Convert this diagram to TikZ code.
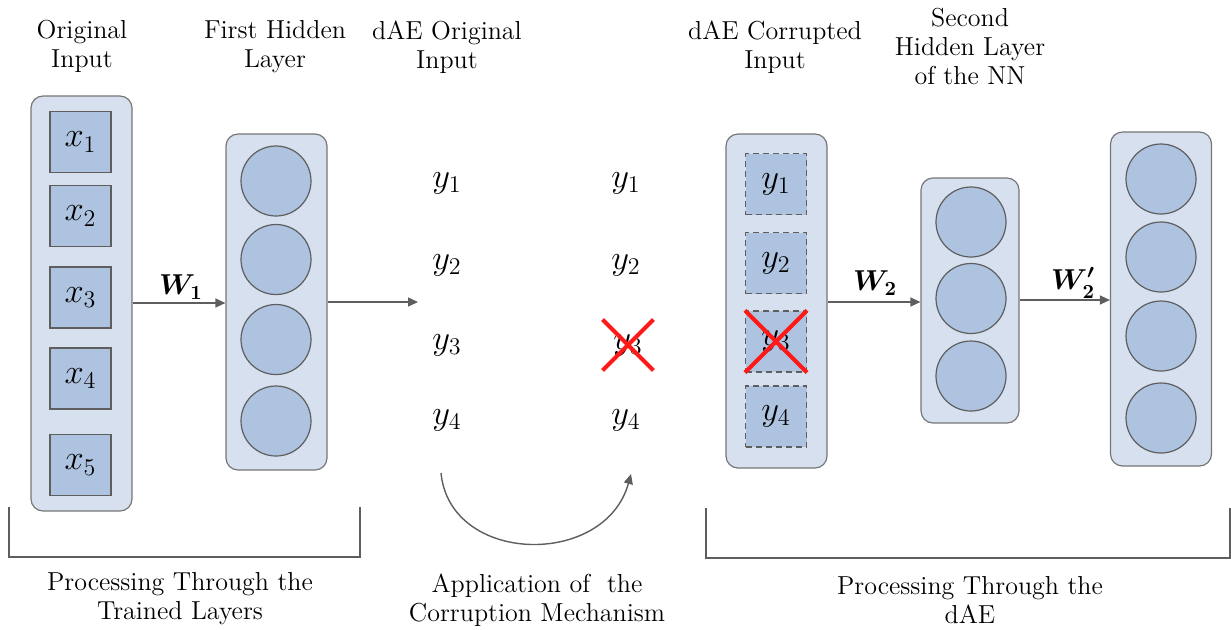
\documentclass[tikz,border=0pt]{standalone}
\usepackage{bm}
\usetikzlibrary{arrows.meta}
\definecolor{boxbg}{HTML}{D6E0EE}
\definecolor{unitbg}{HTML}{AEC3E0}
\definecolor{edgegray}{HTML}{5E5E5E}
\definecolor{crossred}{HTML}{FF1A1A}
\begin{document}
\begin{tikzpicture}[x=0.5pt, y=-0.5pt,
  box/.style={draw=edgegray!85, fill=boxbg, rounded corners=6pt, minimum width=50.5pt, inner sep=0pt, line width=0.6pt},
  sq/.style={draw=edgegray, fill=unitbg, minimum size=30.5pt, inner sep=0pt, line width=0.6pt, font=\LARGE},
  dsq/.style={sq, dashed, dash pattern=on 3pt off 2pt},
  unit/.style={circle, draw=edgegray, fill=unitbg, minimum size=35pt, inner sep=0pt, line width=0.6pt},
  yv/.style={font=\LARGE, inner sep=1pt},
  ttl/.style={align=center, font=\fontsize{13}{14.5}\selectfont},
  e/.style={edgegray, line width=0.7pt, -{Triangle[length=5pt, width=4.5pt]}},
  br/.style={edgegray, line width=0.6pt},
  cross/.style={crossred, line width=2pt},
  wl/.style={font=\Large\boldmath, inner sep=1pt}]
\useasboundingbox (0,0) rectangle (1231,629);
% titles
\node[ttl] (t1) at (82,46) {Original\\Input};
\node[ttl] (t2) at (275,47) {First Hidden\\Layer};
\node[ttl] (t3) at (447,47) {dAE Original\\Input};
\node[ttl] (t4) at (775,47) {dAE Corrupted\\Input};
\node[ttl] (t5) at (970,46) {Second\\Hidden Layer\\of the NN};
% original input
\node[box, minimum height=207.5pt] (inp) at (81.5,303.5) {};
\node[sq] (x1) at (80.5,142) {$x_1$};
\node[sq] (x2) at (80.5,216) {$x_2$};
\node[sq] (x3) at (80.5,297.5) {$x_3$};
\node[sq] (x4) at (80.5,378.5) {$x_4$};
\node[sq] (x5) at (80.5,465) {$x_5$};
% first hidden layer
\node[box, minimum height=168pt] (hid1) at (276.5,302) {};
\node[unit] (h1) at (276,181) {};
\node[unit] (h2) at (276,259.5) {};
\node[unit] (h3) at (276,339.5) {};
\node[unit] (h4) at (276,421) {};
% dAE original input
\node[yv] (ya1) at (447,183) {$y_1$};
\node[yv] (ya2) at (447,265) {$y_2$};
\node[yv] (ya3) at (447,345) {$y_3$};
\node[yv] (ya4) at (447,420) {$y_4$};
\coordinate (ya) at (418,302);
% after corruption
\node[yv] (yb1) at (626,183) {$y_1$};
\node[yv] (yb2) at (626,265) {$y_2$};
\node[yv, minimum size=25pt] (yb3) at (628,345) {$y_3$};
\node[yv] (yb4) at (626,420) {$y_4$};
\draw[cross] (yb3.north west) -- (yb3.south east);
\draw[cross] (yb3.north east) -- (yb3.south west);
% dAE corrupted input
\node[box, minimum height=167pt] (cor) at (776.5,301) {};
\node[dsq] (c1) at (776,184) {$y_1$};
\node[dsq] (c2) at (776,263) {$y_2$};
\node[dsq] (c3) at (776,341.5) {$y_3$};
\node[dsq] (c4) at (776,416.5) {$y_4$};
\draw[cross] (c3.north west) -- (c3.south east);
\draw[cross] (c3.north east) -- (c3.south west);
% second hidden layer
\node[box, minimum width=49pt, minimum height=122.5pt] (hid2) at (970,300.5) {};
\node[unit] (g1) at (971,222) {};
\node[unit] (g2) at (971,298.5) {};
\node[unit] (g3) at (971,376) {};
% reconstruction
\node[box, minimum height=167pt] (out) at (1161,299) {};
\node[unit] (o1) at (1161,179) {};
\node[unit] (o2) at (1161,257) {};
\node[unit] (o3) at (1161,336) {};
\node[unit] (o4) at (1161,418) {};
% weights
\draw[e] (inp.east |- 0,303) -- (hid1.west |- 0,303);
\node[wl] (w1) at (181,287) {$W_1$};
\draw[e] (hid1.east |- 0,302) -- (ya);
\draw[e] (cor.east |- 0,302) -- (hid2.west |- 0,302);
\node[wl] (w2) at (875,283) {$W_2$};
\draw[e] (hid2.east |- 0,300) -- (out.west |- 0,300);
\node[wl] (w3) at (1073,283) {$W_2'$};
% corruption
\coordinate (cs) at (441,473);
\coordinate (ce) at (631,474);
\draw[e] (cs) .. controls (450,565) and (605,568) .. (ce);
% brackets
\draw[br] (9,507) -- (9,557) -- (360,557) -- (360,507);
\draw[br] (706,508) -- (706,558) -- (1230,558) -- (1230,508);
\node[ttl] (b1) at (180,599) {Processing Through the\\Trained Layers};
\node[ttl] (b2) at (537,600) {Application of \ the\\Corruption Mechanism};
\node[ttl] (b3) at (970,600) {Processing Through the\\dAE};
\end{tikzpicture}
\end{document}
